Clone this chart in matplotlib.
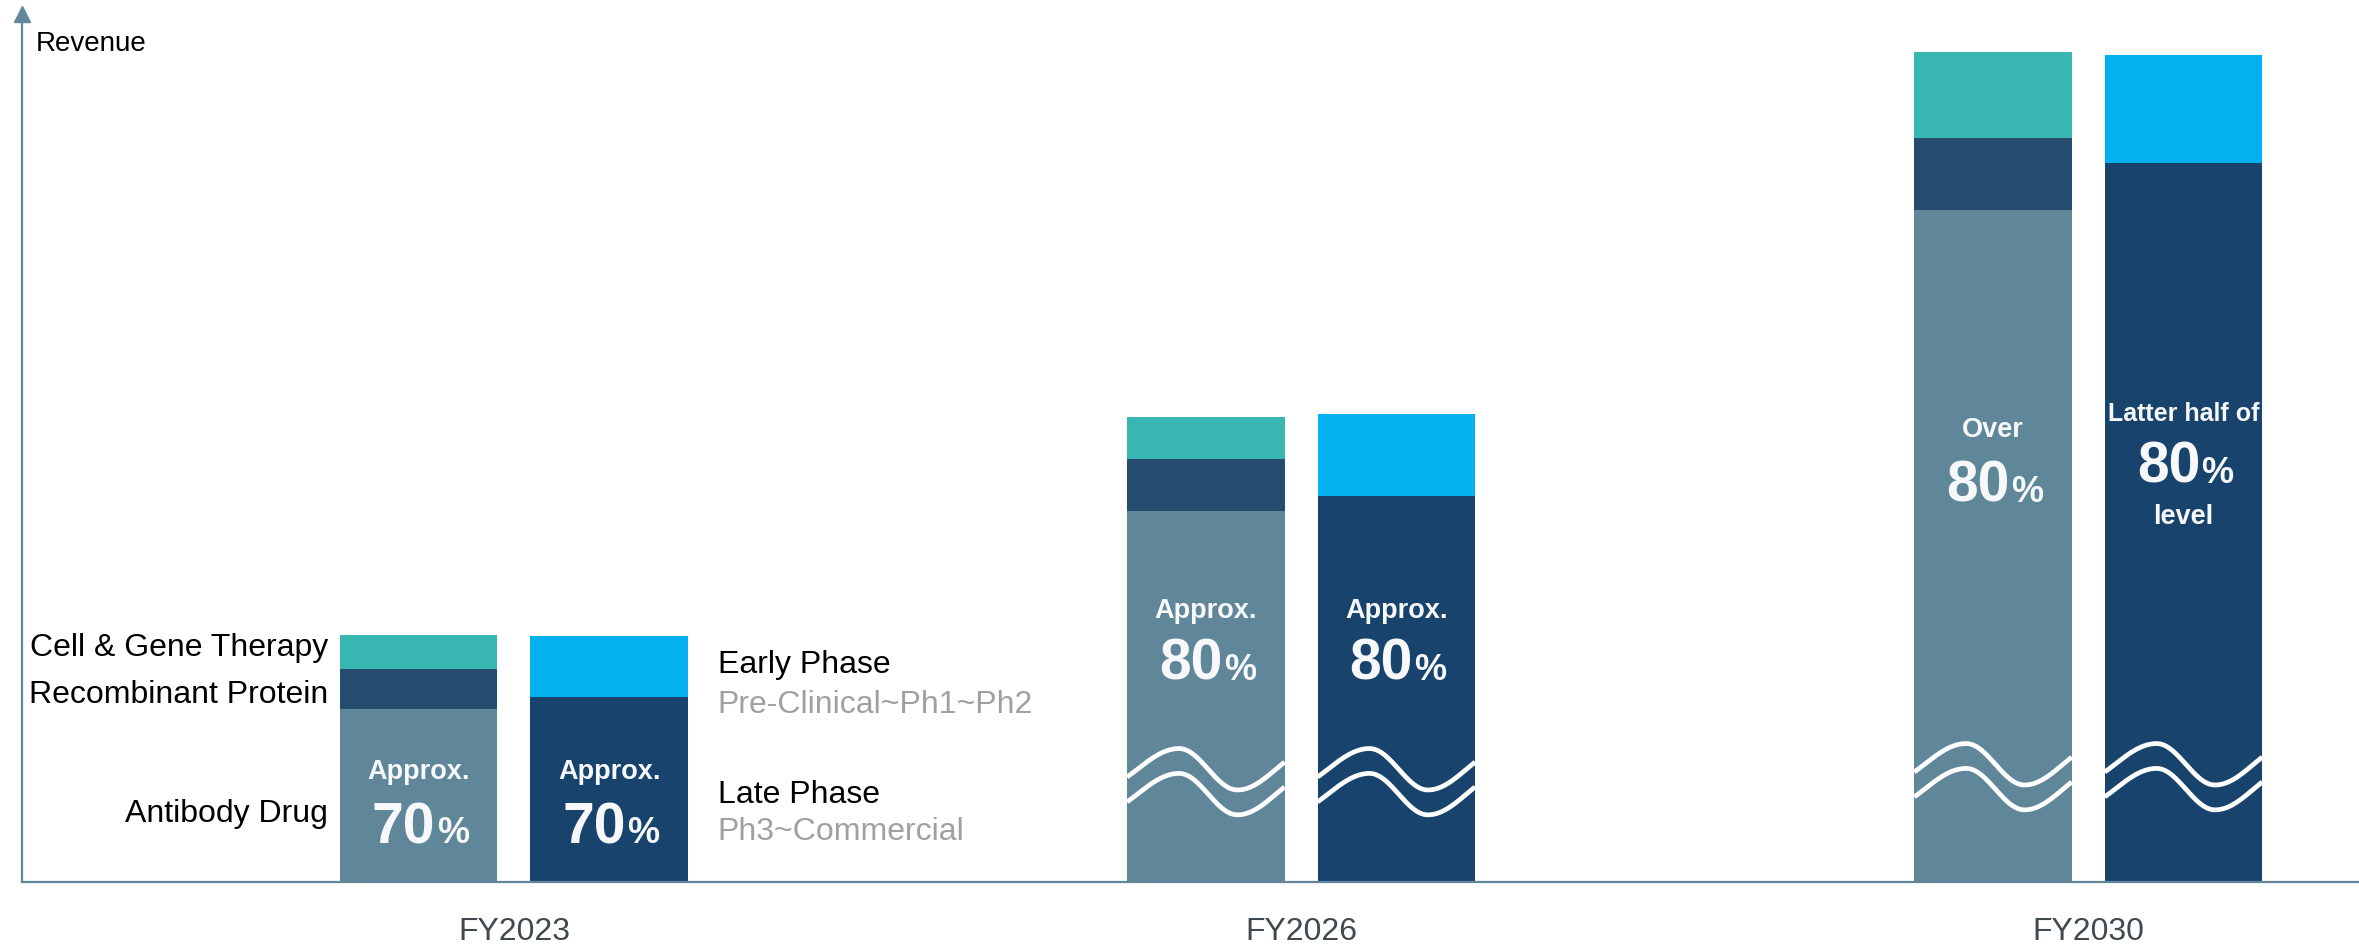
import matplotlib.pyplot as plt
import numpy as np

plt.rcParams['font.family'] = ['Liberation Sans', 'DejaVu Sans']

# data (revenue index, FY2030 modality total = 100)
years = ['FY2023', 'FY2026', 'FY2030']
antibody = [20.9, 44.8, 81.1]
recombinant = [4.8, 6.2, 8.7]
cell_gene = [4.1, 5.1, 10.3]
late_phase = [22.3, 46.6, 86.7]
early_phase = [7.4, 9.8, 13.1]
broken = [False, True, True]  # bars drawn with a break mark

modality_labels = ['Cell & Gene Therapy', 'Recombinant Protein', 'Antibody Drug']
top_text = ['Approx.', 'Approx.', 'Over']
right_top_text = ['Approx.', 'Approx.', 'Latter half of']
pct = ['70', '80', '80']

# colours
C_AB = '#5F8699'
C_RP = '#254B6F'
C_CGT = '#38B6B2'
C_LATE = '#18436D'
C_EARLY = '#03B1F0'
AXIS = '#62879A'
WHITE = '#F7F8FA'

W = 0.2
OFF = 0.121

fig = plt.figure(figsize=(23.59, 9.47), dpi=100)
ax = fig.add_axes([22 / 2359, 65 / 947, 2337 / 2359, 868 / 947])
ax.set_xlim(-0.625, 2.344)
ax.set_ylim(0, 104.7)

x = np.arange(len(years))
ab = np.array(antibody)
rp = np.array(recombinant)
ax.bar(x - OFF, ab, W, color=C_AB)
ax.bar(x - OFF, rp, W, bottom=ab, color=C_RP)
ax.bar(x - OFF, cell_gene, W, bottom=ab + rp, color=C_CGT)
ax.bar(x + OFF, late_phase, W, color=C_LATE)
ax.bar(x + OFF, early_phase, W, bottom=late_phase, color=C_EARLY)


def wave(t):
    # piecewise cosine through trough / peak / trough / peak
    kt = [-0.2, 0.33, 0.70, 1.19]
    kv = [1, -1, 1, -1]
    out = np.zeros_like(t)
    for i in range(len(kt) - 1):
        m = (t >= kt[i]) & (t <= kt[i + 1])
        f = (t[m] - kt[i]) / (kt[i + 1] - kt[i])
        out[m] = kv[i] + (kv[i + 1] - kv[i]) * (1 - np.cos(np.pi * f)) / 2
    return out


wave_mid = [0, 13.6, 14.2]
for i in range(len(years)):
    if not broken[i]:
        continue
    for cx in (x[i] - OFF, x[i] + OFF):
        xs = np.linspace(cx - W / 2, cx + W / 2, 200)
        t = (xs - (cx - W / 2)) / W
        for c in (wave_mid[i], wave_mid[i] - 3.0):
            ax.plot(xs, c - wave(t) * 2.5, color='white', lw=3.4,
                    solid_capstyle='butt')

# in-bar labels
top_y = [12.42, 31.85, 53.68]
pct_y = [4.70, 24.37, 45.84]
right_top_y = [12.42, 31.85, 55.6]
right_pct_y = [4.70, 24.37, 48.13]
for i in range(len(years)):
    for j, (cx, txt, ty, py) in enumerate(((x[i] - OFF, top_text[i], top_y[i], pct_y[i]),
                                           (x[i] + OFF, right_top_text[i], right_top_y[i], right_pct_y[i]))):
        fs = 18 if (i == 2 and j == 1) else 19.5
        ax.text(cx, ty, txt, color=WHITE, fontsize=fs, fontweight='bold',
                ha='center', va='baseline')
        ax.annotate(pct[i], (cx, py), xytext=(12, 0), textcoords='offset points',
                    color=WHITE, fontsize=41, fontweight='bold', ha='right', va='baseline')
        ax.annotate('%', (cx, py), xytext=(13, 0), textcoords='offset points',
                    color=WHITE, fontsize=26, fontweight='bold', ha='left', va='baseline')
ax.text(x[2] + OFF, 43.18, 'level', color=WHITE, fontsize=19.5, fontweight='bold',
        ha='center', va='baseline')

# side labels for FY2023
lx = x[0] - OFF - W / 2 - 0.015
for lab, ly in zip(modality_labels, [28.2, 22.6, 8.2]):
    ax.text(lx, ly, lab, fontsize=23, ha='right', va='center', color='black')
rx = x[0] + OFF + W / 2 + 0.038
ax.text(rx, 26.2, 'Early Phase', fontsize=23, ha='left', va='center', color='black')
ax.text(rx, 21.4, 'Pre-Clinical~Ph1~Ph2', fontsize=23, ha='left', va='center', color='#A0A0A0')
ax.text(rx, 10.5, 'Late Phase', fontsize=23, ha='left', va='center', color='black')
ax.text(rx, 6.0, 'Ph3~Commercial', fontsize=23, ha='left', va='center', color='#A0A0A0')

# axes styling
for s in ('top', 'right'):
    ax.spines[s].set_visible(False)
for s in ('left', 'bottom'):
    ax.spines[s].set_color(AXIS)
    ax.spines[s].set_linewidth(1.6)
ax.set_yticks([])
ax.set_xticks(x)
ax.set_xticklabels(years, fontsize=23, color='#404850')
ax.tick_params(axis='x', length=0, pad=25)
ax.plot([0], [1], marker='^', markersize=12, color=AXIS, transform=ax.transAxes,
        clip_on=False)
ax.text(0.006, 0.965, 'Revenue', transform=ax.transAxes, fontsize=20, ha='left',
        va='center', color='black')

fig.savefig('out.png', dpi=100)
